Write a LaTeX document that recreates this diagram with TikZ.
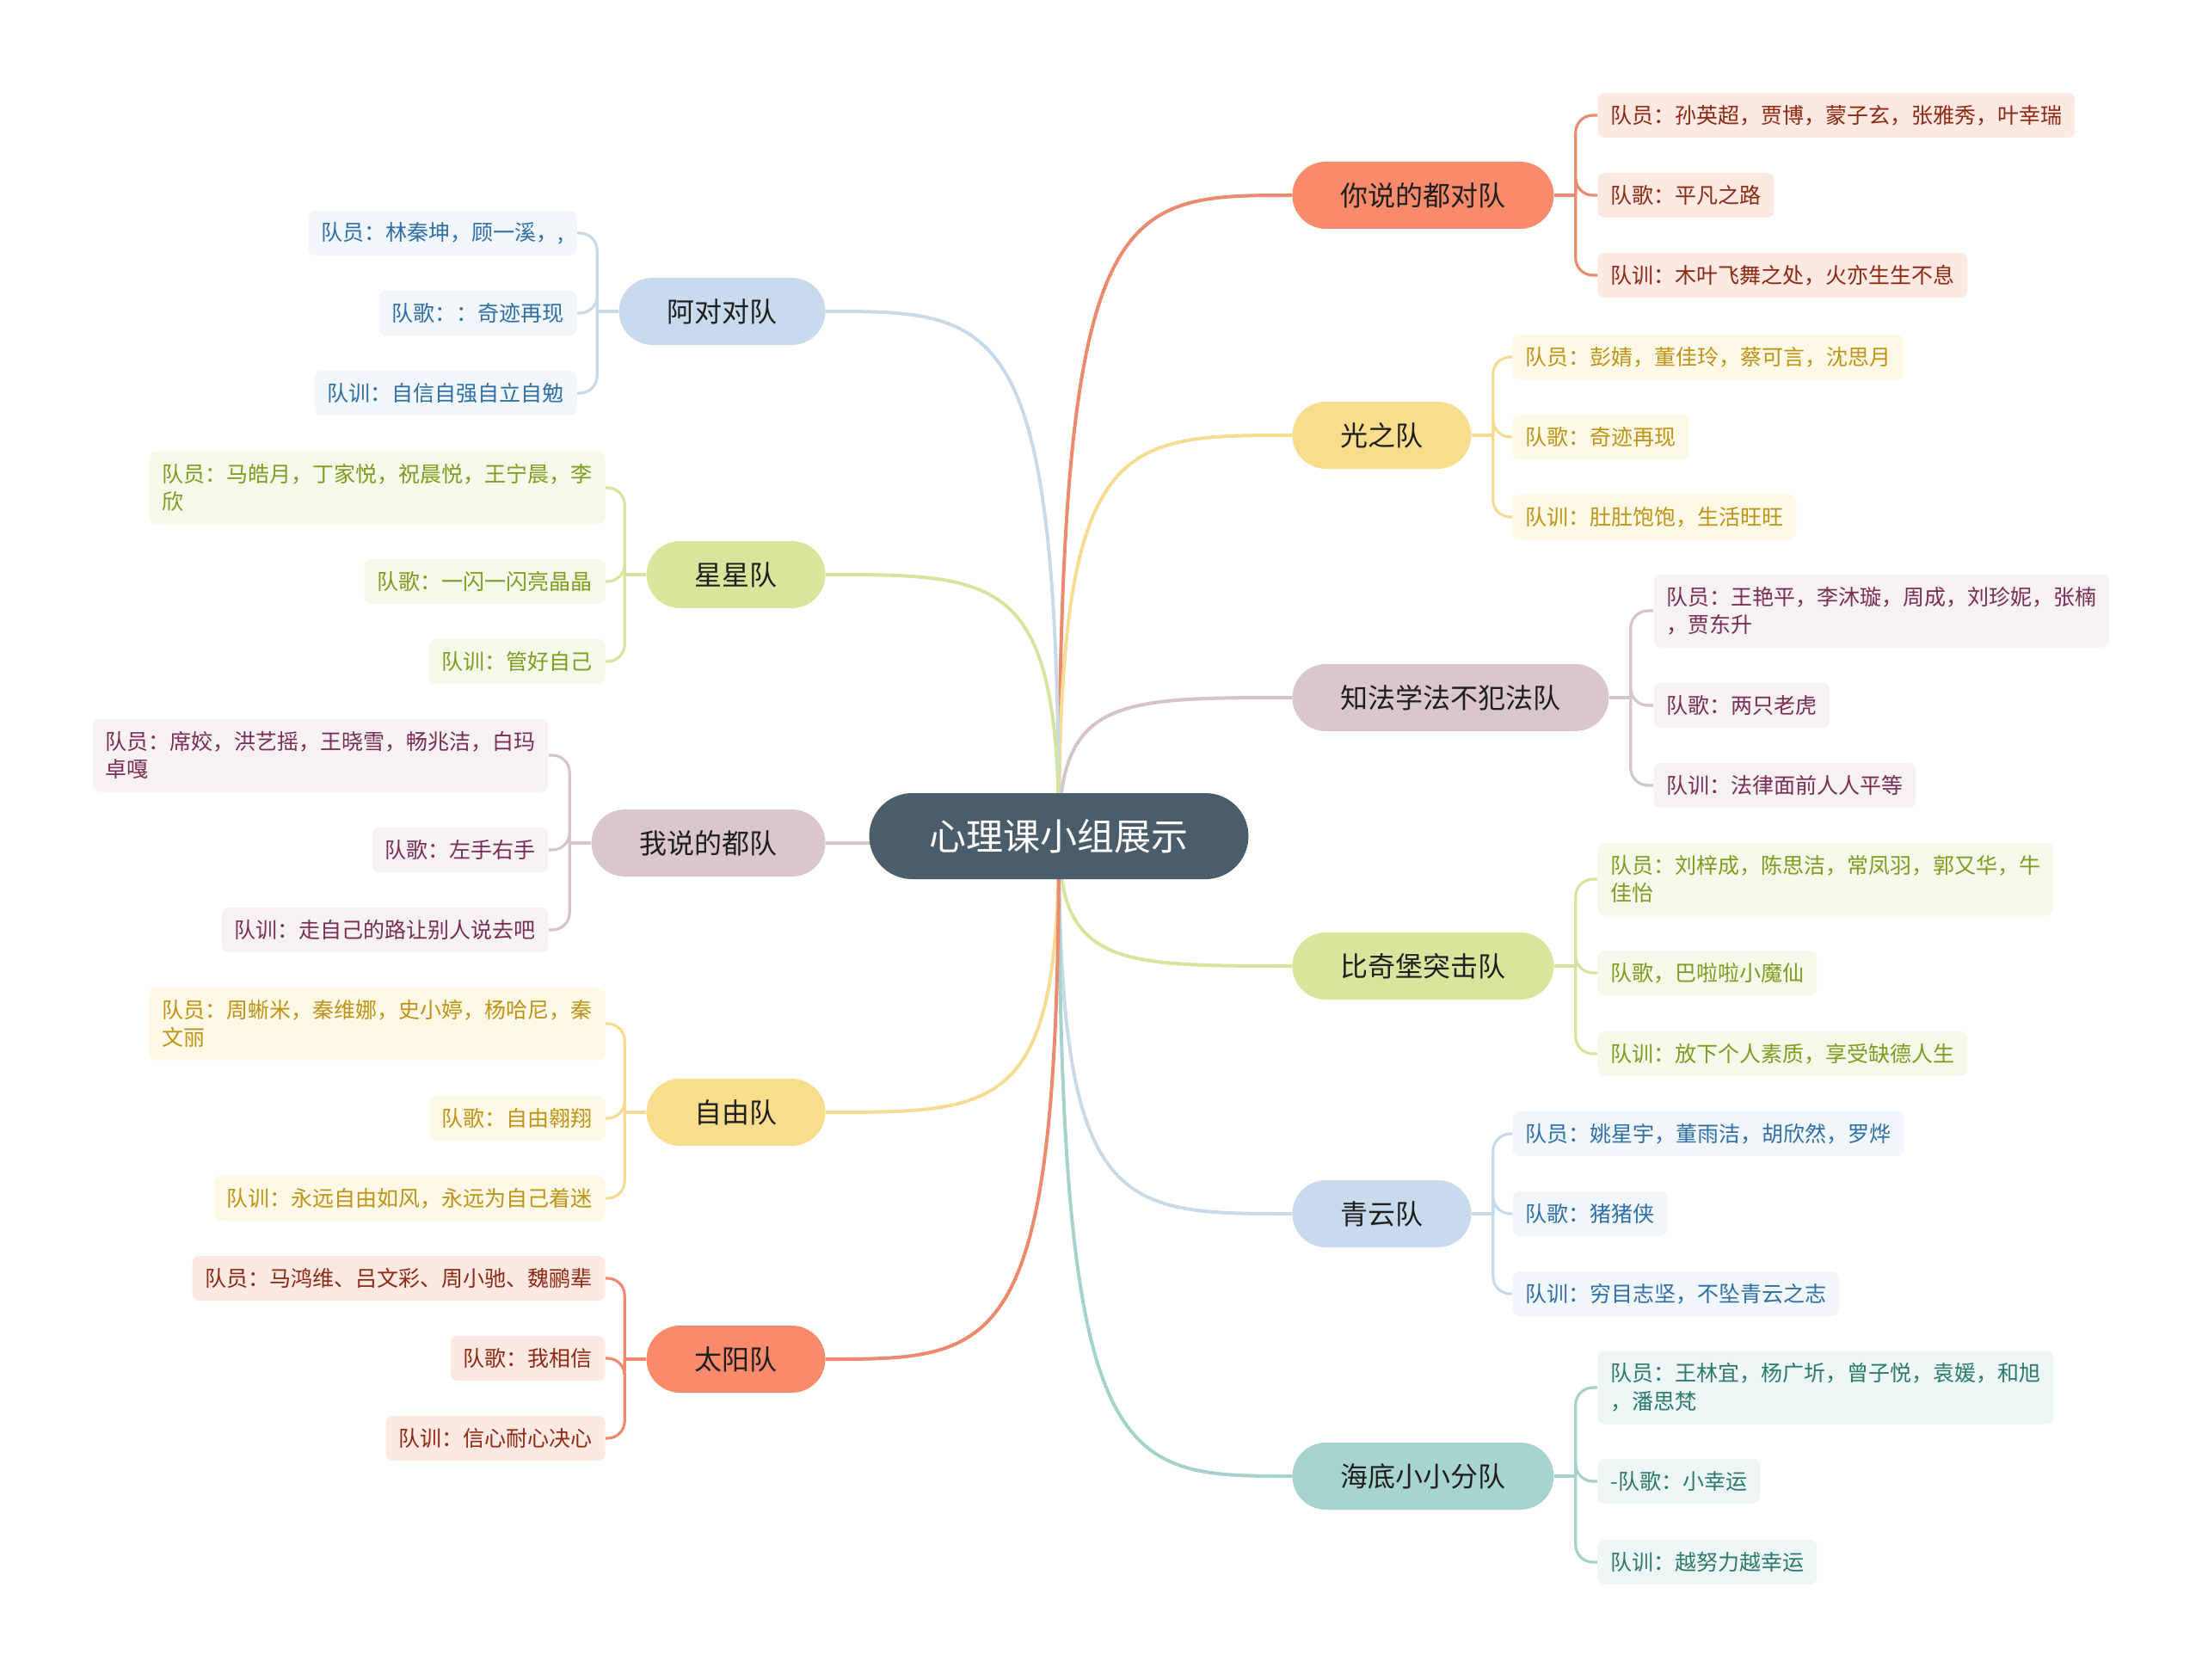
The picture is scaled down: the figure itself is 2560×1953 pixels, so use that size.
\documentclass[tikz,border=0pt]{standalone}
\usepackage{fontspec}
\setmainfont{Noto Sans CJK SC}
\usetikzlibrary{backgrounds}
\definecolor{rootF}{HTML}{4B5C6B}
% coral
\definecolor{aF}{HTML}{F98A6B}\definecolor{aL}{HTML}{FDE8E2}\definecolor{aT}{HTML}{8C2A14}\definecolor{aK}{HTML}{EC8A6E}
% yellow
\definecolor{bF}{HTML}{F7DD8C}\definecolor{bL}{HTML}{FEF8E6}\definecolor{bT}{HTML}{BF9416}\definecolor{bK}{HTML}{F5DC92}
% mauve
\definecolor{cF}{HTML}{D9C6CF}\definecolor{cL}{HTML}{F6F1F3}\definecolor{cT}{HTML}{7A2E52}\definecolor{cK}{HTML}{D7C3CB}
% green
\definecolor{dF}{HTML}{D7E69C}\definecolor{dL}{HTML}{F5F9EA}\definecolor{dT}{HTML}{7E9C1F}\definecolor{dK}{HTML}{D6E49E}
% blue
\definecolor{eF}{HTML}{C8DAEB}\definecolor{eL}{HTML}{F1F6FA}\definecolor{eT}{HTML}{2F6FA6}\definecolor{eK}{HTML}{C8D9E8}
% teal
\definecolor{fF}{HTML}{A7D4CF}\definecolor{fL}{HTML}{EDF6F5}\definecolor{fT}{HTML}{2B7A6C}\definecolor{fK}{HTML}{A6D2CD}
\begin{document}
\begin{tikzpicture}[x=0.5pt,y=-0.5pt,
  rootbox/.style={fill=rootF,text=white,rounded corners=25pt,minimum height=50pt,inner xsep=35pt,inner ysep=0pt,font=\fontsize{21.5}{24}\selectfont},
  mainbox/.style={rounded corners=19.5pt,minimum height=39pt,inner xsep=28pt,inner ysep=0pt,text=black!88,font=\fontsize{16}{19}\selectfont},
  leafbox/.style={rounded corners=4pt,minimum height=26pt,inner xsep=7.5pt,inner ysep=4pt,align=left,font=\fontsize{12.5}{16.3}\selectfont},
  twoline/.style={minimum height=42.5pt},
  mA/.style={mainbox,fill=aF},mB/.style={mainbox,fill=bF},mC/.style={mainbox,fill=cF},
  mD/.style={mainbox,fill=dF},mE/.style={mainbox,fill=eF},mF/.style={mainbox,fill=fF},
  lA/.style={leafbox,fill=aL,text=aT},lB/.style={leafbox,fill=bL,text=bT},lC/.style={leafbox,fill=cL,text=cT},
  lD/.style={leafbox,fill=dL,text=dT},lE/.style={leafbox,fill=eL,text=eT},lF/.style={leafbox,fill=fL,text=fT},
  kmain/.style={line width=2pt},
  kleaf/.style={line width=1.6pt,rounded corners=10pt},
]
\useasboundingbox (0,0) rectangle (2560,1953);

\node[rootbox] (root) at (1231,972) {心理课小组展示};

% right main nodes
\node[mA,anchor=west] (R1) at (1502,227) {你说的都对队};
\node[mB,anchor=west] (R2) at (1502,506) {光之队};
\node[mC,anchor=west] (R3) at (1502,811) {知法学法不犯法队};
\node[mD,anchor=west] (R4) at (1502,1123) {比奇堡突击队};
\node[mE,anchor=west] (R5) at (1502,1411) {青云队};
\node[mF,anchor=west] (R6) at (1502,1716) {海底小小分队};

% left main nodes
\node[mE,anchor=east] (L1) at (960,362) {阿对对队};
\node[mD,anchor=east] (L2) at (960,668) {星星队};
\node[mC,anchor=east] (L3) at (960,980) {我说的都队};
\node[mB,anchor=east] (L4) at (960,1293) {自由队};
\node[mA,anchor=east] (L5) at (960,1580) {太阳队};

% right leaves
\node[lA,anchor=west] (R1a) at (1857,134) {队员：孙英超，贾博，蒙子玄，张雅秀，叶幸瑞};
\node[lA,anchor=west] (R1b) at (1857,227) {队歌：平凡之路};
\node[lA,anchor=west] (R1c) at (1857,320) {队训：木叶飞舞之处，火亦生生不息};

\node[lB,anchor=west] (R2a) at (1758,415) {队员：彭婧，董佳玲，蔡可言，沈思月};
\node[lB,anchor=west] (R2b) at (1758,508) {队歌：奇迹再现};
\node[lB,anchor=west] (R2c) at (1758,601) {队训：肚肚饱饱，生活旺旺};

\node[lC,twoline,anchor=west] (R3a) at (1922,710) {队员：王艳平，李沐璇，周成，刘珍妮，张楠\\，贾东升};
\node[lC,anchor=west] (R3b) at (1922,820) {队歌：两只老虎};
\node[lC,anchor=west] (R3c) at (1922,913) {队训：法律面前人人平等};

\node[lD,twoline,anchor=west] (R4a) at (1857,1022) {队员：刘梓成，陈思洁，常凤羽，郭又华，牛\\佳怡};
\node[lD,anchor=west] (R4b) at (1857,1131) {队歌，巴啦啦小魔仙};
\node[lD,anchor=west] (R4c) at (1857,1225) {队训：放下个人素质，享受缺德人生};

\node[lE,anchor=west] (R5a) at (1758,1318) {队员：姚星宇，董雨洁，胡欣然，罗烨};
\node[lE,anchor=west] (R5b) at (1758,1411) {队歌：猪猪侠};
\node[lE,anchor=west] (R5c) at (1758,1504) {队训：穷目志坚，不坠青云之志};

\node[lF,twoline,anchor=west] (R6a) at (1857,1613) {队员：王林宜，杨广圻，曾子悦，袁媛，和旭\\，潘思梵};
\node[lF,anchor=west] (R6b) at (1857,1722) {-队歌：小幸运};
\node[lF,anchor=west] (R6c) at (1857,1816) {队训：越努力越幸运};

% left leaves
\node[lE,anchor=east] (L1a) at (671,271) {队员：林秦坤，顾一溪，,};
\node[lE,anchor=east] (L1b) at (671,364) {队歌：：奇迹再现};
\node[lE,anchor=east] (L1c) at (671,457) {队训：自信自强自立自勉};

\node[lD,twoline,anchor=east] (L2a) at (704,567) {队员：马皓月，丁家悦，祝晨悦，王宁晨，李\\欣};
\node[lD,anchor=east] (L2b) at (704,676) {队歌：一闪一闪亮晶晶};
\node[lD,anchor=east] (L2c) at (704,769) {队训：管好自己};

\node[lC,twoline,anchor=east] (L3a) at (638,878) {队员：席姣，洪艺摇，王晓雪，畅兆洁，白玛\\卓嘎};
\node[lC,anchor=east] (L3b) at (638,988) {队歌：左手右手};
\node[lC,anchor=east] (L3c) at (638,1081) {队训：走自己的路让别人说去吧};

\node[lB,twoline,anchor=east] (L4a) at (704,1190) {队员：周蜥米，秦维娜，史小婷，杨哈尼，秦\\文丽};
\node[lB,anchor=east] (L4b) at (704,1300) {队歌：自由翱翔};
\node[lB,anchor=east] (L4c) at (704,1393) {队训：永远自由如风，永远为自己着迷};

\node[lA,anchor=east] (L5a) at (704,1486) {队员：马鸿维、吕文彩、周小驰、魏鹂辈};
\node[lA,anchor=east] (L5b) at (704,1579) {队歌：我相信};
\node[lA,anchor=east] (L5c) at (704,1672) {队训：信心耐心决心};

\begin{scope}[on background layer]
% root connectors
\draw[kmain,aK] (root.center) .. controls (1231,227) and (1299,227) .. (R1.west);
\draw[kmain,bK] (root.center) .. controls (1231,506) and (1299,506) .. (R2.west);
\draw[kmain,cK] (root.center) .. controls (1231,811) and (1299,811) .. (R3.west);
\draw[kmain,dK] (root.center) .. controls (1231,1123) and (1299,1123) .. (R4.west);
\draw[kmain,eK] (root.center) .. controls (1231,1411) and (1299,1411) .. (R5.west);
\draw[kmain,fK] (root.center) .. controls (1231,1716) and (1299,1716) .. (R6.west);
\draw[kmain,eK] (root.center) .. controls (1231,362) and (1163,362) .. (L1.east);
\draw[kmain,dK] (root.center) .. controls (1231,668) and (1163,668) .. (L2.east);
\draw[kmain,cK] (root.center) .. controls (1231,980) and (1163,980) .. (L3.east);
\draw[kmain,bK] (root.center) .. controls (1231,1293) and (1163,1293) .. (L4.east);
\draw[kmain,aK] (root.center) .. controls (1231,1580) and (1163,1580) .. (L5.east);
% leaf connectors right
\foreach \m/\c in {R1/aK,R2/bK,R3/cK,R4/dK,R5/eK,R6/fK}{
  \draw[kleaf,\c] (\m.east) -- ++(25,0);
  \foreach \s in {a,b,c}{
    \draw[kleaf,\c] (\m.east) ++(25,0) |- (\m\s.west);
  }
}
% leaf connectors left
\foreach \m/\c in {L1/eK,L2/dK,L3/cK,L4/bK,L5/aK}{
  \draw[kleaf,\c] (\m.west) -- ++(-25,0);
  \foreach \s in {a,b,c}{
    \draw[kleaf,\c] (\m.west) ++(-25,0) |- (\m\s.east);
  }
}
\end{scope}
\end{tikzpicture}
\end{document}
